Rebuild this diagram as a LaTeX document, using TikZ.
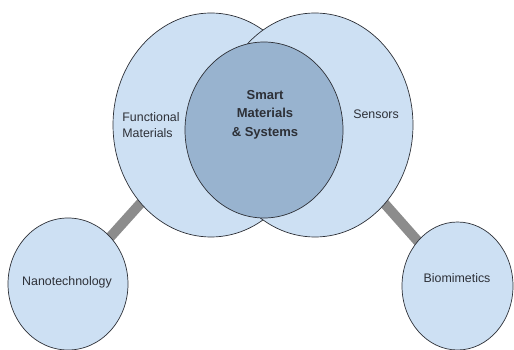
\documentclass[tikz,border=0pt]{standalone}
\usepackage{fontspec}
\setmainfont{Liberation Sans}
\usetikzlibrary{shapes.geometric,backgrounds}

\definecolor{paleblue}{RGB}{205,224,243}
\definecolor{midblue}{RGB}{152,179,207}
\definecolor{bargray}{RGB}{140,140,140}
\definecolor{inkgray}{RGB}{45,48,55}

\tikzset{
  blob/.style={ellipse,draw=inkgray,line width=0.7pt,fill=paleblue,inner sep=0pt},
  bar/.style={draw=bargray,line width=10pt},
  tag/.style={text=inkgray,font=\fontsize{12.4}{16}\selectfont,align=left},
}

\begin{document}
\begin{tikzpicture}[x=1pt,y=-1pt]
  \useasboundingbox (0,0) rectangle (514,350);
  % the two large fields
  \node[blob,minimum width=196pt,minimum height=224pt] (func) at (211,125) {};
  \node[blob,minimum width=196pt,minimum height=224pt] (sens) at (315,125) {};
  \node[blob,fill=midblue,minimum width=158pt,minimum height=176pt] (smart) at (264,130) {};
  % the two small fields
  \node[blob,minimum width=120pt,minimum height=132pt] (nano) at (68,284) {};
  \node[blob,minimum width=111pt,minimum height=128pt] (bio) at (457.5,286) {};
  % connecting bars
  \begin{pgfonlayer}{background}
    \draw[bar] (func.center) -- (nano.center);
    \draw[bar] (sens.center) -- (bio.center);
  \end{pgfonlayer}
  % labels
  \node[tag] (funclabel) at (151,125) {Functional\\Materials};
  \node[tag] (senslabel) at (376,114) {Sensors};
  \node[tag,align=center,font=\fontsize{13}{18.5}\selectfont\bfseries]
    (smartlabel) at (265,114.5) {Smart\\Materials\\\& Systems};
  \node[tag] (nanolabel) at (67,282) {Nanotechnology};
  \node[tag] (biolabel) at (457,278) {Biomimetics};
\end{tikzpicture}
\end{document}
